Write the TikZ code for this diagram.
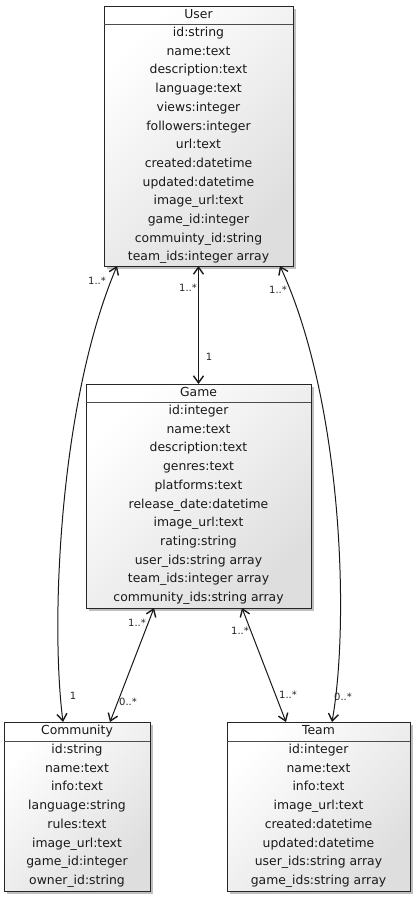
\documentclass[tikz,border=0pt]{standalone}
\usepackage{fontspec}
\setmainfont{DejaVu Sans}
\usetikzlibrary{arrows.meta,shadows,calc}

\tikzset{
  umlbox/.style={draw=black!85, line width=0.9pt, top color=white, bottom color=black!13,
    shading angle=45, inner sep=0pt, outer sep=0pt,
    drop shadow={shadow xshift=2.5pt, shadow yshift=-2.5pt, fill=black!45, opacity=0.55}},
  rowtext/.style={font=\fontsize{12.4}{14}\selectfont, text=black!90, inner sep=0pt,
    text height=9pt, text depth=2.6pt},
  multlabel/.style={font=\fontsize{10}{12}\selectfont, text=black!85, inner sep=0pt},
  headline/.style={draw=black!70, line width=1pt},
  tipend/.tip={Straight Barb[length=7pt,width=10pt,line width=1.4pt]},
  assoc/.style={line width=1pt, draw=black!90, tipend-tipend}
}

% name, x1, x2, ytop, yhead, ybottom, title, rows
\newcommand{\umlclass}[8]{%
  \pgfmathsetmacro\bw{#3-#2}%
  \pgfmathsetmacro\bh{#6-#4}%
  \pgfmathsetmacro\bcx{(#2+#3)/2}%
  \pgfmathsetmacro\bcy{(#4+#6)/2}%
  \pgfmathsetmacro\tcy{(#4+#5)/2}%
  \node[umlbox, minimum width=\bw pt, minimum height=\bh pt] (#1) at (\bcx,\bcy) {};
  \draw[headline] ($(#1.north west)+(0,#5-#4)$) -- ($(#1.north east)+(0,#5-#4)$);
  \node[rowtext] (#1-title) at (\bcx,\tcy) {#7};
  \foreach \r [count=\i] in {#8} {
    \pgfmathsetmacro\ry{#5+9.3+(\i-1)*18.7}
    \node[rowtext] (#1-r\i) at (\bcx,\ry) {\r};
  }
}

\begin{document}
\begin{tikzpicture}[x=1pt,y=-1pt]
\useasboundingbox[fill=white] (0,0) rectangle (415,897);

\umlclass{user}{104}{293}{6}{24}{266}{User}{id:string, name:text, description:text, language:text, views:integer, followers:integer, url:text, created:datetime, updated:datetime, image\_url:text, game\_id:integer, commuinty\_id:string, team\_ids:integer array}

\umlclass{game}{86}{311}{384}{402}{608}{Game}{id:integer, name:text, description:text, genres:text, platforms:text, release\_date:datetime, image\_url:text, rating:string, user\_ids:string array, team\_ids:integer array, community\_ids:string array}

\umlclass{comm}{4}{150}{722}{741}{891}{Community}{id:string, name:text, info:text, language:string, rules:text, image\_url:text, game\_id:integer, owner\_id:string}

\umlclass{team}{227}{410}{722}{741}{891}{Team}{id:integer, name:text, info:text, image\_url:text, created:datetime, updated:datetime, user\_ids:string array, game\_ids:string array}

% connector end points on the boxes
\coordinate (uc-a) at ($(user.south west)+(13,0)$);
\coordinate (uc-b) at ($(comm.north west)+(59,0)$);
\coordinate (ut-a) at ($(user.south west)+(176,0)$);
\coordinate (ut-b) at ($(team.north west)+(105,0)$);
\coordinate (gc-a) at ($(game.south west)+(68,0)$);
\coordinate (gc-b) at ($(comm.north west)+(106,0)$);
\coordinate (gt-a) at ($(game.south west)+(156,0)$);
\coordinate (gt-b) at ($(team.north west)+(59,0)$);

\draw[assoc] (uc-a) .. controls (60,400) and (50,620) .. (uc-b);
\draw[assoc] (user.south) -- (game.north);
\draw[assoc] (ut-a) .. controls (342,400) and (350,620) .. (ut-b);
\draw[assoc] (gc-a) -- (gc-b);
\draw[assoc] (gt-a) -- (gt-b);

% multiplicities
\node[multlabel] (m1) at (97,281) {1..*};
\node[multlabel] (m2) at (188,288) {1..*};
\node[multlabel] (m3) at (278,290) {1..*};
\node[multlabel] (m4) at (209,357) {1};
\node[multlabel] (m5) at (73,696) {1};
\node[multlabel] (m6) at (128,702) {0..*};
\node[multlabel] (m7) at (137,623) {1..*};
\node[multlabel] (m8) at (240,631) {1..*};
\node[multlabel] (m9) at (288,695) {1..*};
\node[multlabel] (m10) at (343,697) {0..*};
\end{tikzpicture}
\end{document}
